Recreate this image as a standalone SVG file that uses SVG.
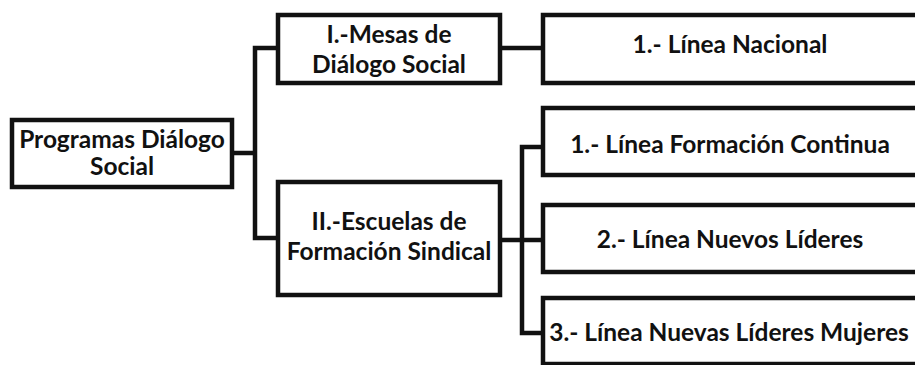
<svg xmlns="http://www.w3.org/2000/svg" width="915" height="365" viewBox="0 0 915 365">
<style>
.box{fill:#fff;stroke:#111;stroke-width:4.5}
.con{fill:none;stroke:#111;stroke-width:4.5;stroke-linejoin:miter}
text{font-family:Lato,"Open Sans","Liberation Sans",sans-serif;font-weight:bold;font-size:24.5px;fill:#111;text-anchor:middle}
</style>
<rect width="915" height="365" fill="#fff"/>
<g id="connectors">
<path class="con" d="M232,153 H255 M278,48 H255 V238 H278"/>
<path class="con" d="M500,48 H543"/>
<path class="con" d="M500,240 H543 M543,147 H522 V333 H543"/>
</g>
<g id="root">
<rect class="box" x="12" y="120" width="220" height="67"/>
<text x="122" y="148">Programas Diálogo</text>
<text x="122" y="175">Social</text>
</g>
<g id="mesas">
<rect class="box" x="278" y="15" width="222" height="68"/>
<text x="389" y="43">I.-Mesas de</text>
<text x="389" y="73">Diálogo Social</text>
</g>
<g id="escuelas">
<rect class="box" x="278" y="182" width="222" height="113"/>
<text x="389" y="230">II.-Escuelas de</text>
<text x="389" y="260">Formación Sindical</text>
</g>
<g id="nacional">
<rect class="box" x="543" y="15" width="380" height="68"/>
<text x="730" y="53">1.- Línea Nacional</text>
</g>
<g id="continua">
<rect class="box" x="543" y="108" width="380" height="67"/>
<text x="730" y="153">1.- Línea Formación Continua</text>
</g>
<g id="nuevos">
<rect class="box" x="543" y="205" width="380" height="67"/>
<text x="730" y="248">2.- Línea Nuevos Líderes</text>
</g>
<g id="mujeres">
<rect class="box" x="543" y="298" width="380" height="66"/>
<text x="729" y="341">3.- Línea Nuevas Líderes Mujeres</text>
</g>
</svg>
